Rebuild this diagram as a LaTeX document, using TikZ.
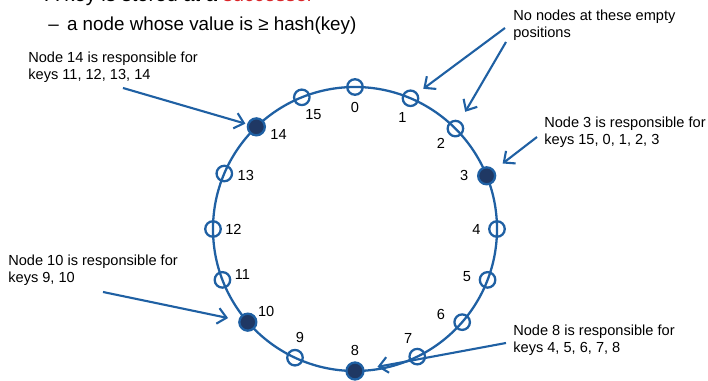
\documentclass[tikz,border=0pt]{standalone}
\usepackage{fontspec}
\setmainfont{Liberation Sans}
\usepackage{xcolor}
\usetikzlibrary{arrows.meta,positioning}
\definecolor{ringblue}{RGB}{31,96,163}
\definecolor{navy}{RGB}{31,56,100}
\definecolor{slidered}{RGB}{218,36,40}

\begin{document}
\begin{tikzpicture}[
    x=0.02cm, y=-0.02cm,
    ring/.style={draw=ringblue, line width=1.3pt},
    slot/.style={circle, draw=ringblue, line width=1.3pt, minimum size=0.31cm, inner sep=0pt},
    peer/.style={slot, fill=navy, minimum size=0.34cm},
    keylabel/.style={inner sep=0pt, font=\fontsize{8.3}{10}\selectfont},
    note/.style={anchor=north west, align=left, inner sep=0pt,
        font=\fontsize{8.3}{9.7}\selectfont},
    arrow/.style={-{Straight Barb[length=5pt,width=9pt]}, line width=1.2pt, draw=ringblue}
]
\useasboundingbox (0,0) rectangle (708,381);

% slide text, first line cut by the page edge
\node[anchor=base west, inner sep=0pt, font=\fontsize{11.5}{13}\selectfont] (keyline) at (45,2)
    {A key is stored at a \textcolor{slidered}{successor}};
\node[anchor=base west, inner sep=0pt, font=\fontsize{10.7}{13}\selectfont] (subline) at (48,31)
    {–\hspace{4.7pt}a node whose value is ≥ hash(key)};

% the ring and its 16 positions
\coordinate (c) at (355,229);
\draw[ring] (c) circle[radius=142];
\foreach \k/\a/\s/\b in {0/0/slot/0, 1/23/slot/23, 2/45/slot/45, 3/68/peer/64,
    4/90/slot/90, 5/111/slot/113, 6/131/slot/135, 7/154/slot/154, 8/180/peer/180,
    9/205/slot/207, 10/229/peer/227, 11/249/slot/248, 12/270/slot/270,
    13/293/slot/296, 14/316/peer/321, 15/338/slot/340} {
    \node[\s] (k\k) at ([shift={(\a-90:142)}]c) {};
    \node[keylabel] (l\k) at ([shift={(\b-90:121.5)}]c) {\k};
}

\node[note] (n14note) at (28,52) {Node 14 is responsible for\\keys 11, 12, 13, 14};
\node[note] (emptynote) at (513,10) {No nodes at these empty\\positions};
\node[note] (n3note) at (544,117) {Node 3 is responsible for\\keys 15, 0, 1, 2, 3};
\node[note] (n10note) at (8,255) {Node 10 is responsible for\\keys 9, 10};
\node[note] (n8note) at (513,325) {Node 8 is responsible for\\keys 4, 5, 6, 7, 8};

\coordinate (from14) at (123,88);
\coordinate (fromempty1) at (505,28);
\coordinate (fromempty2) at (506,42);
\coordinate (from3) at (537,137);
\coordinate (from10) at (103,292);
\coordinate (from8) at (506,343);

\draw[arrow, shorten >=1pt] (from14) -- (k14);
\draw[arrow, shorten >=4pt] (fromempty1) -- (k1);
\draw[arrow, shorten >=6pt] (fromempty2) -- (k2);
\draw[arrow, shorten >=6pt] (from3) -- (k3);
\draw[arrow, shorten >=6pt] (from10) -- (k10);
\draw[arrow, shorten >=7.5pt] (from8) -- (k8);

\end{tikzpicture}
\end{document}
